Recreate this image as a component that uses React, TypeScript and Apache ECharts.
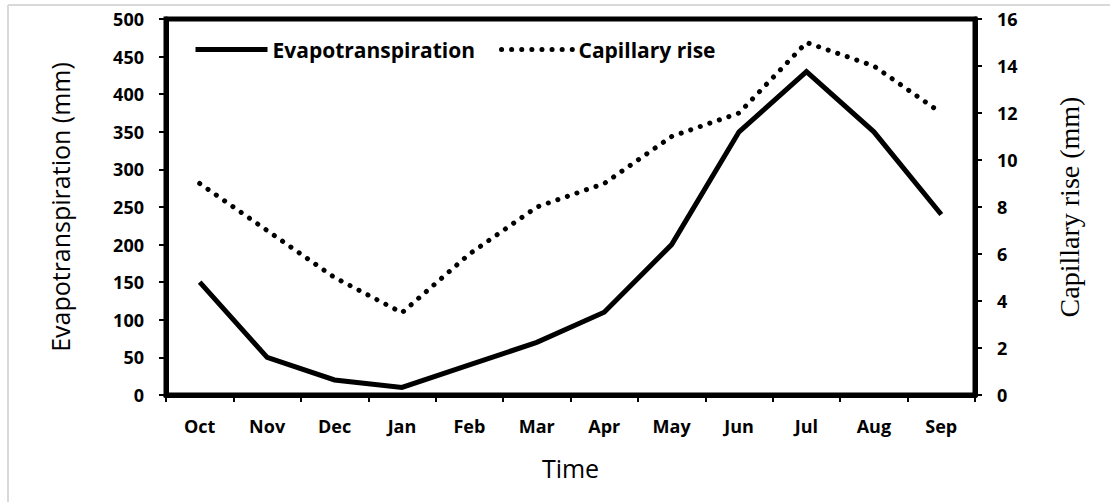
import React, { useEffect, useRef } from "react";
import * as echarts from "echarts";

const months = ["Oct", "Nov", "Dec", "Jan", "Feb", "Mar", "Apr", "May", "Jun", "Jul", "Aug", "Sep"];
const evapotranspiration = [150, 50, 20, 10, 40, 70, 110, 200, 350, 430, 350, 240];
const capillaryRise = [9, 7, 5, 3.5, 6, 8, 9, 11, 12, 15, 14, 12];

export default function App() {
  const ref = useRef<HTMLDivElement>(null);
  useEffect(() => {
    if (!ref.current) return;
    const chart = echarts.init(ref.current, null, { renderer: "svg" });
    const tickFont = { fontFamily: "Open Sans", fontWeight: "bold" as const, fontSize: 18, color: "#000" };
    chart.setOption({
      animation: false,
      backgroundColor: "#fff",
      graphic: [
        { type: "line", shape: { x1: 8, y1: 5, x2: 1110, y2: 5 }, style: { stroke: "#d9d9d9", lineWidth: 2 } },
        { type: "line", shape: { x1: 8, y1: 5, x2: 8, y2: 502 }, style: { stroke: "#d9d9d9", lineWidth: 2 } },
      ],
      grid: {
        left: 166, right: 135, top: 19, bottom: 107,
        show: true, borderColor: "#000", borderWidth: 5, backgroundColor: "transparent",
      },
      legend: {
        left: 188, top: 34,
        itemWidth: 72, itemHeight: 14, itemGap: 24,
        itemStyle: { opacity: 0 },
        lineStyle: { width: 5 },
        textStyle: { fontFamily: "Open Sans", fontWeight: "bold", fontSize: 21, color: "#000" },
        data: ["Evapotranspiration", "Capillary rise"],
      },
      xAxis: {
        type: "category",
        data: months,
        boundaryGap: true,
        name: "Time",
        nameLocation: "middle",
        nameGap: 60,
        nameTextStyle: { fontFamily: "Open Sans", fontSize: 25, color: "#000" },
        axisLine: { lineStyle: { color: "#000", width: 5 } },
        axisTick: { show: true, length: 7, lineStyle: { color: "#000", width: 2 } },
        axisLabel: { ...tickFont, margin: 22 },
      },
      yAxis: [
        {
          type: "value", min: 0, max: 500, interval: 50, position: "left",
          name: "Evapotranspiration (mm)", nameLocation: "middle", nameGap: 94,
          nameTextStyle: { fontFamily: "Open Sans", fontSize: 25, color: "#000" },
          axisLine: { show: true, lineStyle: { color: "#000", width: 5 } },
          axisTick: { show: true, length: 7, lineStyle: { color: "#000", width: 2 } },
          axisLabel: { ...tickFont, margin: 22 },
          splitLine: { show: false },
        },
        {
          type: "value", min: 0, max: 16, interval: 2, position: "right",
          name: "Capillary rise (mm)", nameLocation: "middle", nameGap: 80,
          nameRotate: 90,
          nameTextStyle: { fontFamily: "Liberation Serif", fontSize: 28, color: "#000" },
          axisLine: { show: true, lineStyle: { color: "#000", width: 5 } },
          axisTick: { show: true, length: 7, lineStyle: { color: "#000", width: 2 } },
          axisLabel: { ...tickFont, margin: 22 },
          splitLine: { show: false },
        },
      ],
      series: [
        {
          name: "Evapotranspiration", type: "line", yAxisIndex: 0, data: evapotranspiration,
          symbol: "none", color: "#000",
          lineStyle: { color: "#000", width: 5, join: "miter" },
        },
        {
          name: "Capillary rise", type: "line", yAxisIndex: 1, data: capillaryRise,
          symbol: "none", color: "#000",
          lineStyle: { color: "#000", width: 5, type: [0.1, 10], cap: "round" },
        },
      ],
    });
    return () => chart.dispose();
  }, []);
  return <div ref={ref} style={{ position: "fixed", left: 0, top: 0, width: 1110, height: 502 }} />;
}
